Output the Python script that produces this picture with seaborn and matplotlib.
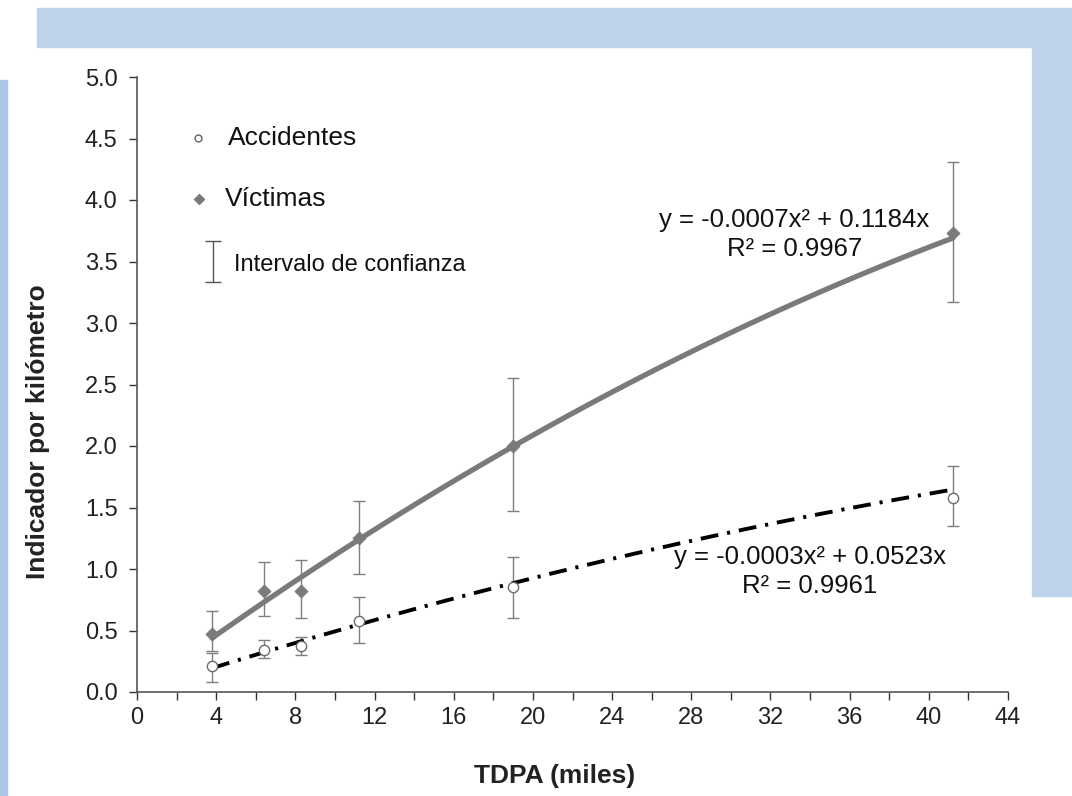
import numpy as np
import pandas as pd
import matplotlib
matplotlib.use("Agg")
import matplotlib.pyplot as plt
from matplotlib.patches import Rectangle
import seaborn as sns

# ---- data ----
tdpa = [3.8, 6.4, 8.3, 11.2, 19.0, 41.2]
victimas = [0.47, 0.82, 0.82, 1.25, 2.00, 3.73]
victimas_lo = [0.33, 0.62, 0.60, 0.96, 1.47, 3.17]
victimas_hi = [0.66, 1.06, 1.07, 1.55, 2.55, 4.31]
accidentes = [0.21, 0.34, 0.37, 0.58, 0.85, 1.58]
accidentes_lo = [0.08, 0.28, 0.30, 0.40, 0.60, 1.35]
accidentes_hi = [0.32, 0.42, 0.45, 0.77, 1.10, 1.84]
# trend-line coefficients shown on the chart (a*x^2 + b*x)
coef_vict = (-0.0007, 0.1184)
coef_acc = (-0.0003, 0.0523)
eq_vict = "y = -0.0007x² + 0.1184x\nR² = 0.9967"
eq_acc = "y = -0.0003x² + 0.0523x\nR² = 0.9961"
x_ticks = list(range(0, 45, 4))
y_ticks = [0.0, 0.5, 1.0, 1.5, 2.0, 2.5, 3.0, 3.5, 4.0, 4.5, 5.0]

sns.set_theme(style="ticks")
plt.rcParams['font.family'] = ['Liberation Sans', 'DejaVu Sans']

fig = plt.figure(figsize=(10.72, 7.96), dpi=100)
fig.patch.set_facecolor("white")
W, H = 1072, 796
def rect_px(x0, y0, x1, y1, color):
    fig.patches.append(Rectangle((x0 / W, 1 - y1 / H), (x1 - x0) / W, (y1 - y0) / H,
                                 transform=fig.transFigure, color=color, zorder=-10))
rect_px(37, 8, 1032, 47, "#BED3EA")
rect_px(1032, 8, 1072, 596, "#BED3EA")
rect_px(0, 80, 7, 796, "#AAC6E5")

ax = fig.add_axes([137 / W, 1 - 692 / H, (1008 - 137) / W, (692 - 77) / H])
ax.set_facecolor("none")

# trend lines
xv = np.linspace(min(tdpa), max(tdpa), 200)
fit_v = pd.DataFrame({"x": xv, "y": coef_vict[0] * xv ** 2 + coef_vict[1] * xv})
fit_a = pd.DataFrame({"x": xv, "y": coef_acc[0] * xv ** 2 + coef_acc[1] * xv})
sns.lineplot(data=fit_v, x="x", y="y", ax=ax, color="#7a7a7a", linewidth=3.8, zorder=3)
sns.lineplot(data=fit_a, x="x", y="y", ax=ax, color="black", linewidth=2.8, zorder=3)
ax.lines[-1].set_dashes((4.6, 2.3, 0.8, 2.3))

# error bars
tv = np.array(tdpa)
v = np.array(victimas); a = np.array(accidentes)
ax.errorbar(tv, v, yerr=[v - np.array(victimas_lo), np.array(victimas_hi) - v],
            fmt="none", ecolor="#7f7f7f", elinewidth=1.0, capsize=4, capthick=1.0, zorder=2)
ax.errorbar(tv, a, yerr=[a - np.array(accidentes_lo), np.array(accidentes_hi) - a],
            fmt="none", ecolor="#7f7f7f", elinewidth=1.0, capsize=4, capthick=1.0, zorder=2)

# points
df_v = pd.DataFrame({"x": tdpa, "y": victimas})
df_a = pd.DataFrame({"x": tdpa, "y": accidentes})
sns.scatterplot(data=df_v, x="x", y="y", ax=ax, marker="D", s=45, color="#7a7a7a",
                edgecolor="#7a7a7a", zorder=4)
sns.scatterplot(data=df_a, x="x", y="y", ax=ax, marker="o", s=55, facecolor="white",
                edgecolor="#6a6a6a", linewidth=1.0, zorder=4)

# equations
ax.text(33.2, 3.72, eq_vict, ha="center", va="center", fontsize=18.5, color="#111111",
        linespacing=1.25)
ax.text(34.0, 0.98, eq_acc, ha="center", va="center", fontsize=18.5, color="#111111",
        linespacing=1.25)

# custom legend
ax.plot([0.070], [0.901], marker="o", ms=5, mfc="white", mec="#555555", mew=0.9,
        transform=ax.transAxes, clip_on=False)
ax.text(0.104, 0.901, "Accidentes", transform=ax.transAxes, va="center", ha="left",
        fontsize=19, color="#111111")
ax.plot([0.071], [0.802], marker="D", ms=5, color="#7a7a7a",
        transform=ax.transAxes, clip_on=False)
ax.text(0.101, 0.802, "Víctimas", transform=ax.transAxes, va="center", ha="left",
        fontsize=19, color="#111111")
ax.errorbar([0.087], [0.700], yerr=[[0.033], [0.033]], fmt="none", ecolor="#555555",
            elinewidth=1.0, capsize=6, capthick=1.0, transform=ax.transAxes, clip_on=False)
ax.text(0.111, 0.694, "Intervalo de confianza", transform=ax.transAxes, va="center",
        ha="left", fontsize=17, color="#111111")

# axes styling
ax.set_xlim(0, 44)
ax.set_ylim(0, 5.0)
ax.set_xticks(x_ticks)
ax.set_xticks(list(range(0, 45, 2)), minor=True)
ax.set_yticks(y_ticks)
ax.set_yticklabels([f"{t:.1f}" for t in y_ticks])
ax.tick_params(axis="both", which="major", labelsize=17, colors="#333333",
               labelcolor="#222222", length=6, width=1, pad=5)
ax.tick_params(axis="y", which="major", pad=8)
ax.tick_params(axis="x", which="minor", length=6, width=1, colors="#333333")
for s in ["top", "right"]:
    ax.spines[s].set_visible(False)
for s in ["left", "bottom"]:
    ax.spines[s].set_color("#555555")
    ax.spines[s].set_linewidth(1.2)
ax.set_xlabel("TDPA (miles)", fontsize=19, fontweight="bold", color="#222222")
ax.set_ylabel("Indicador por kilómetro", fontsize=19, fontweight="bold", color="#222222")
ax.xaxis.set_label_coords(0.48, -0.117)
ax.yaxis.set_label_coords(-0.100, 0.424)
ax.grid(False)

fig.savefig("out.png", dpi=100)
